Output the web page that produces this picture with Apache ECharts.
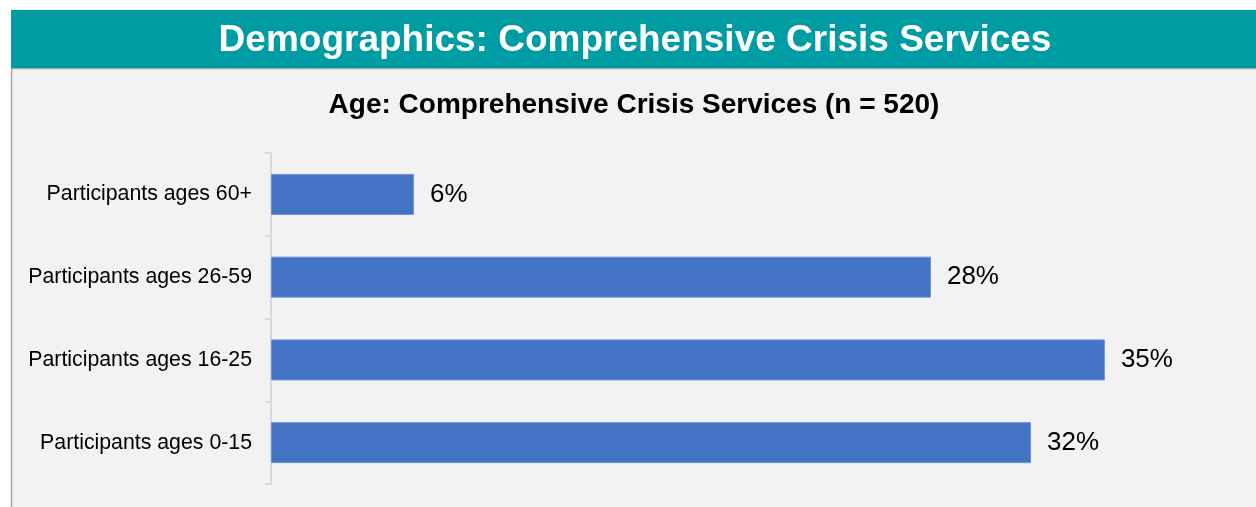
<!DOCTYPE html>
<html>
<head>
<meta charset="utf-8">
<script src="https://cdn.jsdelivr.net/npm/echarts@6/dist/echarts.min.js"></script>
<style>
  html, body { margin: 0; padding: 0; background: #ffffff; }
  #main { width: 1256px; height: 507px; }
</style>
</head>
<body>
<div id="main"></div>
<script>
// categories, bottom to top
const categories = [
  "Participants ages 0-15",
  "Participants ages 16-25",
  "Participants ages 26-59",
  "Participants ages 60+"
];
// percent of participants
const values = [31.9, 35.0, 27.7, 6.0];

const chart = echarts.init(document.getElementById("main"));

const option = {
  backgroundColor: "#ffffff",
  textStyle: { fontFamily: "Liberation Sans, Arial, sans-serif" },
  graphic: [
    {
      // gray panel
      type: "rect",
      z: -10,
      shape: { x: 11.5, y: 68.5, width: 1250, height: 445 },
      style: { fill: "#f2f2f2", stroke: "#a6a6a6", lineWidth: 1.5 }
    },
    {
      // teal banner
      type: "rect",
      z: -9,
      shape: { x: 11, y: 10, width: 1245, height: 58 },
      style: { fill: "#009ca3" }
    },
    {
      type: "text",
      z: 5,
      x: 635,
      y: 41,
      style: {
        text: "Demographics: Comprehensive Crisis Services",
        fill: "#ffffff",
        font: "bold 37px 'Liberation Sans', Arial, sans-serif",
        align: "center",
        verticalAlign: "middle"
      }
    },
    {
      type: "text",
      z: 5,
      x: 634,
      y: 105,
      style: {
        text: "Age: Comprehensive Crisis Services (n = 520)",
        fill: "#000000",
        font: "bold 28px 'Liberation Sans', Arial, sans-serif",
        align: "center",
        verticalAlign: "middle"
      }
    }
  ],
  grid: {
    left: 271,
    top: 153,
    width: 953,
    height: 331
  },
  xAxis: {
    type: "value",
    min: 0,
    max: 40,
    show: false
  },
  yAxis: {
    type: "category",
    data: categories,
    axisLine: { show: true, lineStyle: { color: "#d9d9d9", width: 2 } },
    axisTick: { show: true, length: 6, lineStyle: { color: "#d9d9d9", width: 2 } },
    axisLabel: { color: "#000000", fontSize: 21.3, margin: 19 }
  },
  series: [
    {
      type: "bar",
      data: values,
      barWidth: 41,
      itemStyle: { color: "#4472c4", borderColor: "#6a93d8", borderWidth: 1 },
      label: {
        show: true,
        position: "right",
        distance: 16,
        color: "#000000",
        fontSize: 26,
        formatter: function (p) {
          return Math.round(p.value) + "%";
        }
      }
    }
  ]
};

chart.setOption(option);
</script>
</body>
</html>
